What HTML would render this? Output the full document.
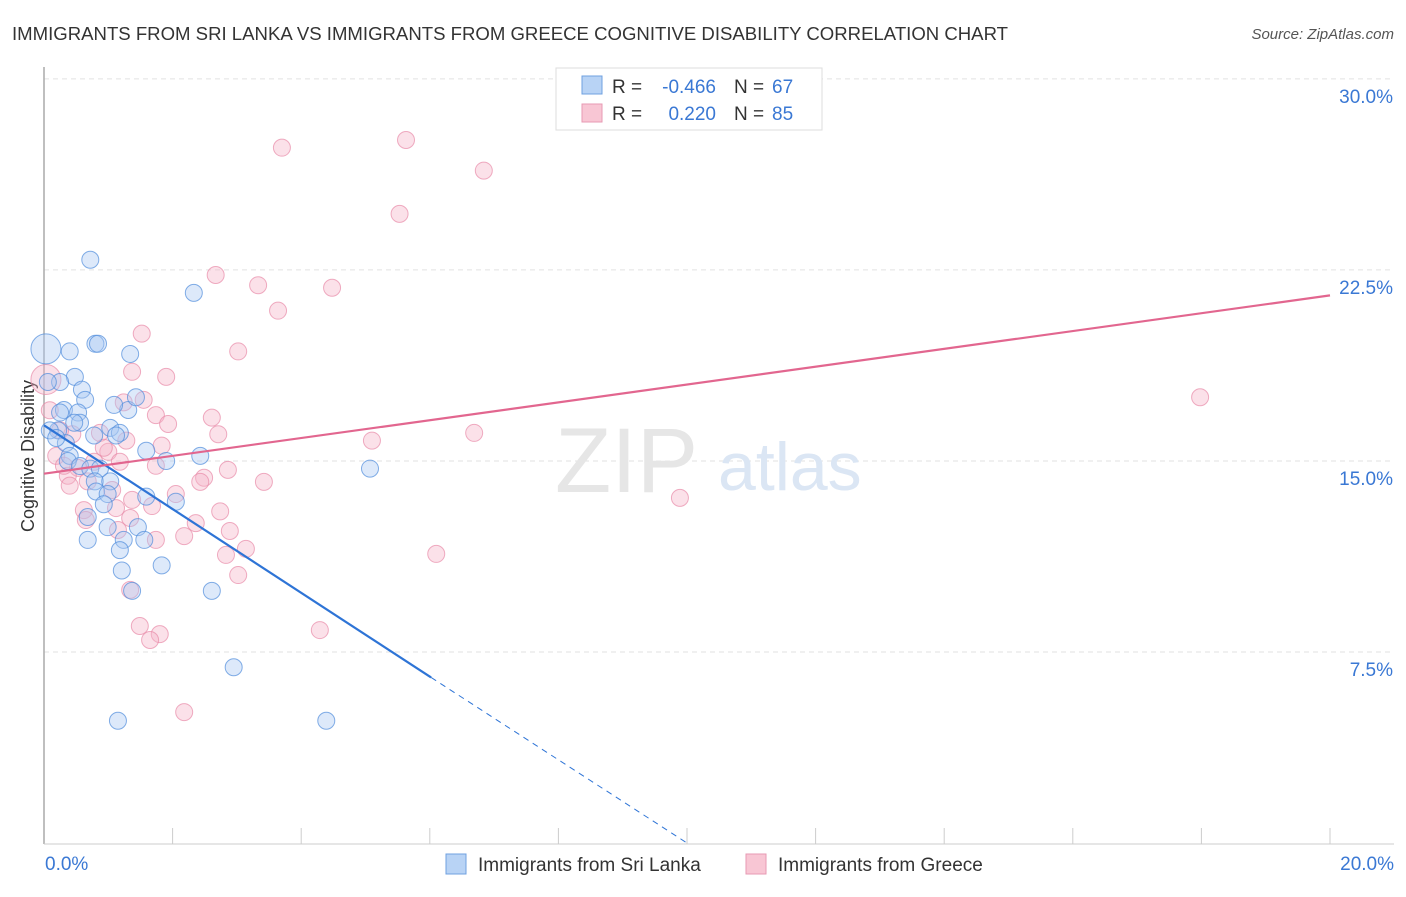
<!DOCTYPE html>
<html><head><meta charset="utf-8"><style>
body{margin:0;background:#fff;font-family:"Liberation Sans",sans-serif;}
svg text{font-family:"Liberation Sans",sans-serif;}
</style></head><body>
<svg width="1406" height="892">
<text x="12" y="40" font-size="18" fill="#333" textLength="996" lengthAdjust="spacingAndGlyphs">IMMIGRANTS FROM SRI LANKA VS IMMIGRANTS FROM GREECE COGNITIVE DISABILITY CORRELATION CHART</text>
<text x="1394" y="39" font-size="15" fill="#555" font-style="italic" text-anchor="end">Source: ZipAtlas.com</text>
<g id="grid"></g>
<line x1="44" y1="67" x2="44" y2="844" stroke="#aaa" stroke-width="1.5"/>
<line x1="44" y1="844" x2="1394" y2="844" stroke="#ccc"/>
<text x="555" y="492" font-size="92" fill="#e6e6e6" font-family="Liberation Serif">ZIP</text>
<text x="718" y="490" font-size="68" fill="#dbe6f4">atlas</text>
<text transform="translate(34,456) rotate(-90)" font-size="18" fill="#333" text-anchor="middle">Cognitive Disability</text>
<g id="ticks"></g>
<g id="pts"></g>
<g id="lines"></g>
<g>
<rect x="556" y="68" width="266" height="62" fill="#fff" stroke="#ddd"/>
<rect x="582" y="76" width="20" height="18" fill="#b8d3f5" stroke="#6fa0e0"/>
<rect x="582" y="104" width="20" height="18" fill="#f8c6d4" stroke="#e79ab3"/>
<text x="612" y="93" font-size="19" fill="#333">R =</text>
<text x="716" y="93" font-size="19" fill="#3a78d4" text-anchor="end">-0.466</text>
<text x="734" y="93" font-size="19" fill="#333">N =</text>
<text x="772" y="93" font-size="19" fill="#3a78d4">67</text>
<text x="612" y="120" font-size="19" fill="#333">R =</text>
<text x="716" y="120" font-size="19" fill="#3a78d4" text-anchor="end">0.220</text>
<text x="734" y="120" font-size="19" fill="#333">N =</text>
<text x="772" y="120" font-size="19" fill="#3a78d4">85</text>
</g>
<g>
<rect x="446" y="854" width="20" height="20" fill="#b8d3f5" stroke="#6fa0e0"/>
<text x="478" y="871" font-size="19" fill="#333">Immigrants from Sri Lanka</text>
<rect x="746" y="854" width="20" height="20" fill="#f8c6d4" stroke="#e79ab3"/>
<text x="778" y="871" font-size="19" fill="#333">Immigrants from Greece</text>
</g>
<text x="45" y="870" font-size="19" fill="#3a78d4">0.0%</text>
<text x="1394" y="870" font-size="19" fill="#3a78d4" text-anchor="end">20.0%</text>
</svg>
<script>
const yTicks=[7.5,15,22.5,30];
const yTickLabels=["7.5%","15.0%","22.5%","30.0%"];
const blueX=[0.03,0.4,0.8,0.84,0.72,2.33,1.34,0.48,0.25,0.06,0.59,0.64,0.31,0.25,0.53,1.31,1.09,1.43,1.03,1.18,1.12,0.22,0.56,0.34,0.40,0.37,0.56,0.72,0.87,1.59,1.90,2.43,5.07,0.79,1.03,0.81,0.99,1.59,2.05,0.93,0.68,1.46,0.99,0.68,1.24,1.56,1.18,1.21,1.83,1.37,2.61,2.95,1.15,4.39,0.09,0.19,0.78,0.47];
const blueY=[19.4,19.3,19.6,19.6,22.9,21.6,19.2,18.3,18.1,18.1,17.8,17.4,17.0,16.9,16.9,17.0,17.2,17.5,16.3,16.1,16.0,16.2,16.5,15.7,15.2,15.0,14.8,14.7,14.7,15.4,15.0,15.2,14.7,14.2,14.2,13.8,13.7,13.6,13.4,13.3,12.8,12.4,12.4,11.9,11.9,11.9,11.5,10.7,10.9,9.9,9.9,6.9,4.8,4.8,16.2,15.9,16.0,16.5];
const pinkX=[3.70,5.63,6.84,5.53,2.67,3.33,4.48,3.64,1.52,3.02,0.03,1.90,1.37,17.98,1.74,1.55,0.09,1.24,1.93,2.61,2.71,6.69,5.10,1.83,1.28,0.87,0.44,0.25,1.00,0.78,0.53,0.37,0.40,0.68,1.06,1.37,1.74,2.05,2.49,2.86,3.42,2.43,1.68,0.62,0.65,1.34,1.15,1.74,2.18,2.36,2.74,2.89,3.14,2.83,3.02,6.10,9.89,1.34,1.49,1.80,1.65,4.29,2.18,1.18,0.93,1.12,0.19,0.31];
const pinkY=[27.3,27.6,26.4,24.7,22.3,21.9,21.8,20.9,20.0,19.3,18.2,18.3,18.5,17.5,16.8,17.4,16.99,17.3,16.45,16.7,16.05,16.1,15.8,15.6,15.8,16.1,16.05,16.2,15.36,14.97,14.73,14.42,14.03,14.2,13.86,13.47,14.81,13.7,14.34,14.65,14.18,14.18,13.23,13.07,12.68,12.76,12.29,11.9,12.05,12.56,13.02,12.25,11.55,11.31,10.52,11.35,13.55,9.94,8.52,8.2,7.97,8.36,5.14,14.97,15.52,13.15,15.2,14.81];
const blueLine={x0:0,y0:16.4,x1:6.02,y1:6.5,xEnd:10,yEnd:0};
const pinkLine={x0:0,y0:14.5,x1:20,y1:21.5};
const NS="http://www.w3.org/2000/svg";
const X=v=>44+v/20*1286, Y=v=>843-v*25.47;
const grid=document.getElementById('grid'),ticks=document.getElementById('ticks'),pts=document.getElementById('pts'),lines=document.getElementById('lines');
yTicks.forEach((t,i)=>{
 const l=document.createElementNS(NS,'line');
 l.setAttribute('x1',44);l.setAttribute('x2',1394);l.setAttribute('y1',Y(t));l.setAttribute('y2',Y(t));
 l.setAttribute('stroke','#e2e2e2');l.setAttribute('stroke-dasharray','5,4');
 
 
 grid.appendChild(l);
 const tx=document.createElementNS(NS,'text');
 tx.setAttribute('x',1393);tx.setAttribute('y',Y(t)+24);tx.setAttribute('text-anchor','end');
 tx.setAttribute('font-size','19');tx.setAttribute('fill','#3a78d4');tx.textContent=yTickLabels[i];
 
 
 ticks.appendChild(tx);
});
for(let i=1;i<=10;i++){
 const l=document.createElementNS(NS,'line');
 const x=X(i*2);
 l.setAttribute('x1',x);l.setAttribute('x2',x);l.setAttribute('y1',828);l.setAttribute('y2',844);l.setAttribute('stroke','#ccc');
 
 
 ticks.appendChild(l);
}
function dots(xs,ys,fill,stroke,name,bigIdx){
 xs.forEach((v,i)=>{
  const c=document.createElementNS(NS,'circle');
  c.setAttribute('cx',X(v));c.setAttribute('cy',Y(ys[i]));c.setAttribute('r',i===bigIdx?15:8.5);
  c.setAttribute('fill',fill);c.setAttribute('fill-opacity','0.4');c.setAttribute('stroke',stroke);c.setAttribute('stroke-opacity','0.7');
  
  
  pts.appendChild(c);
 });
}
dots(pinkX,pinkY,'#f6b3c7','#e88aa8','point-greece',10);
dots(blueX,blueY,'#a9c9f2','#4f8bdc','point-srilanka',0);
function ln(x0,y0,x1,y1,col,dash,name){
 const l=document.createElementNS(NS,'line');
 l.setAttribute('x1',X(x0));l.setAttribute('y1',Y(y0));l.setAttribute('x2',X(x1));l.setAttribute('y2',Y(y1));
 l.setAttribute('stroke',col);l.setAttribute('stroke-width',dash?1:2.2);if(dash)l.setAttribute('stroke-dasharray','6,5');
 
 
 lines.appendChild(l);
}
ln(blueLine.x0,blueLine.y0,blueLine.x1,blueLine.y1,'#2e74d6',false,'trend-srilanka');
ln(blueLine.x1,blueLine.y1,blueLine.xEnd,blueLine.yEnd,'#2e74d6',true,'trend-srilanka-extrapolated');
ln(pinkLine.x0,pinkLine.y0,pinkLine.x1,pinkLine.y1,'#e2668f',false,'trend-greece');
</script>
</body></html>
